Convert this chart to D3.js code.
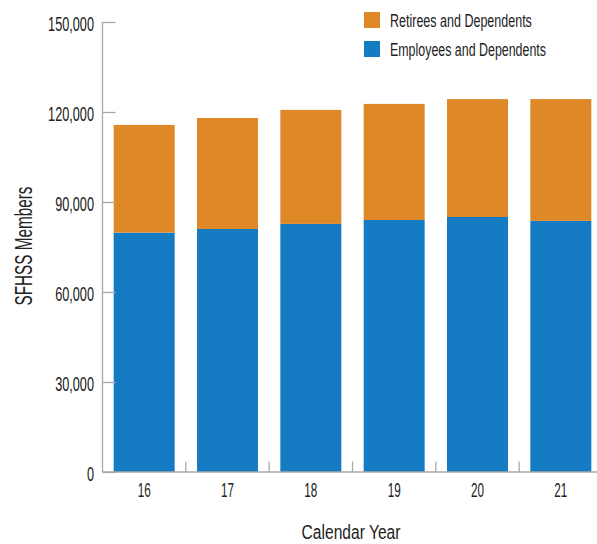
<!DOCTYPE html>
<html><head><meta charset="utf-8">
<script src="https://cdn.jsdelivr.net/npm/d3@7"></script>
<style>
html,body{margin:0;padding:0;background:#fff;overflow:hidden;}
text{font-family:"Liberation Sans",Arial,sans-serif;fill:#222;}
</style></head>
<body><svg id="c" width="597" height="544"></svg>
<script>
const years = ["16","17","18","19","20","21"];
const employees = [79800, 81000, 82700, 84000, 85000, 83700];
const retirees = [35900, 37000, 38000, 38700, 39300, 40600];
const seriesNames = ["Employees and Dependents","Retirees and Dependents"];
const seriesColors = ["#157cc3","#df8828"];
const yTicks = [0,30000,60000,90000,120000,150000];

const svg = d3.select("#c");
const axisColor = "#a9a9a9";

const x = d3.scaleBand().domain(years).range([102.5, 602.5]).paddingInner(0).paddingOuter(0);
const y = d3.scaleLinear().domain([0,150000]).range([472, 22]);

// horizontally squeeze a text via a scale transform (keeps its anchor x in place)
function squeeze(sel, sx, pre){
  sel.each(function(){
    const t = d3.select(this);
    const x0 = +t.attr("x") || 0;
    t.attr("x", x0/sx).attr("transform", (pre||"") + ` scale(${sx},1)`);
  });
}
function squeezeTo(sel, width, pre){
  sel.each(function(){
    const w = this.getComputedTextLength();
    squeeze(d3.select(this), width/w, pre);
  });
}

// stacked data
const table = years.map((yr,i)=>({year:yr, emp:employees[i], ret:retirees[i]}));
const stack = d3.stack().keys(["emp","ret"])(table);

const bw = x.bandwidth()*0.732;
const off = (x.bandwidth()-bw)/2;
svg.append("g").selectAll("g").data(stack).join("g")
  .attr("fill",(d,i)=>seriesColors[i])
  .selectAll("rect").data(d=>d).join("rect")
  .attr("x",d=>x(d.data.year)+off)
  .attr("width",bw)
  .attr("y",d=>y(d[1]))
  .attr("height",d=>y(d[0])-y(d[1]));

// Y axis
const yAxis = svg.append("g").attr("transform","translate(102.5,0)")
  .call(d3.axisRight(y).tickValues(yTicks).tickSize(13).tickFormat(d3.format(",")));
yAxis.select(".domain").attr("stroke",axisColor).attr("stroke-width",1.3).attr("d","M0,"+y(150000)+"V"+y(0));
yAxis.selectAll(".tick line").attr("stroke",axisColor).attr("stroke-width",1.3);
yAxis.selectAll(".tick text").attr("x",-8.5).attr("dy",null).attr("y",8.3)
  .attr("text-anchor","end").style("font-size","21px").attr("fill","#222");
squeeze(yAxis.selectAll(".tick text"), 0.605);

// X axis
const xAxis = svg.append("g").attr("transform","translate(0,472)")
  .call(d3.axisBottom(x).tickSize(0).tickPadding(0));
xAxis.select(".domain").attr("stroke",axisColor).attr("stroke-width",1.3).attr("d","M102.5,0H597");
xAxis.selectAll(".tick text").attr("dy",null).attr("y",25).attr("x",0).style("font-size","19.5px").attr("fill","#222");
squeeze(xAxis.selectAll(".tick text"), 0.6);
xAxis.append("g").selectAll("line").data(years.slice(0,-1)).join("line")
  .attr("x1",d=>x(d)+x.step()).attr("x2",d=>x(d)+x.step())
  .attr("y1",0).attr("y2",-10.5).attr("stroke",axisColor).attr("stroke-width",1.3);

// Axis titles
svg.append("text").attr("x",0).attr("y",0).attr("text-anchor","middle")
  .style("font-size","21px").text("Calendar Year")
  .call(squeezeTo, 99, "translate(351,539)");
svg.append("text").attr("x",0).attr("y",0).attr("text-anchor","middle")
  .style("font-size","24px").text("SFHSS Members")
  .call(squeezeTo, 119, "translate(32,246) rotate(-90)");

// Legend
const legendItems = [
  {name:seriesNames[1], color:seriesColors[1], w:142},
  {name:seriesNames[0], color:seriesColors[0], w:156}
];
const lg = svg.append("g").selectAll("g").data(legendItems).join("g")
  .attr("transform",(d,i)=>`translate(364,${12+i*29})`);
lg.append("rect").attr("width",16).attr("height",16).attr("fill",d=>d.color);
lg.append("text").attr("x",0).attr("y",0).style("font-size","18.5px")
  .text(d=>d.name).each(function(d){ squeezeTo(d3.select(this), d.w, "translate(26,15)"); });
</script></body></html>
